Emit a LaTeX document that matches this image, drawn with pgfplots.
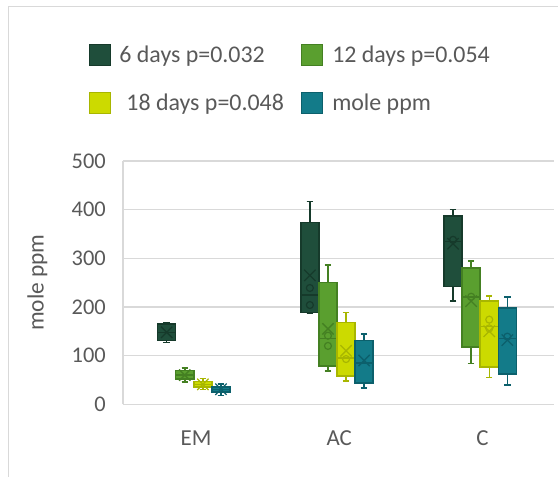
\documentclass[border=0pt]{standalone}
\usepackage{pgfplots}
\pgfplotsset{compat=1.18}
\usepgfplotslibrary{statistics}
\usepackage{fontspec}
\setmainfont{Carlito}
\definecolor{cA}{RGB}{31,78,59}
\definecolor{cAd}{RGB}{22,58,43}
\definecolor{cB}{RGB}{90,159,47}
\definecolor{cBd}{RGB}{68,128,34}
\definecolor{cC}{RGB}{204,218,0}
\definecolor{cCd}{RGB}{168,182,0}
\definecolor{cD}{RGB}{19,123,137}
\definecolor{cDd}{RGB}{12,96,108}
\definecolor{gridc}{RGB}{217,217,217}
\definecolor{txt}{RGB}{89,89,89}
% pos, lower whisker, lower quartile, median, upper quartile, upper whisker, fill, draw
\newcommand{\bx}[8]{\addplot[forget plot, fill=#7, draw=#8, line width=1.5bp,
  boxplot prepared={draw position=#1, lower whisker=#2, lower quartile=#3, median=#4,
  upper quartile=#5, upper whisker=#6, box extend=0.126, whisker extend=0.045}] coordinates {};}
\begin{document}
\begin{tikzpicture}
\path[use as bounding box] (-123bp,-72.7bp) rectangle (435bp,404.3bp);
\draw[gridc, line width=1bp] (-114.5bp,-72.7bp) -- (-114.5bp,397.8bp) -- (435bp,397.8bp);
\draw[gridc, line width=1.3bp] (0bp,0bp) -- (0bp,243.3bp);
\begin{axis}[
  at={(0bp,0bp)}, anchor=south west,
  scale only axis, width=431bp, height=243.3bp,
  boxplot/draw direction=y,
  xmin=-0.51, xmax=2.5, ymin=0, ymax=500,
  xtick={0,1,2}, xticklabels={EM,AC,C},
  ytick={0,100,200,300,400,500},
  ymajorgrids, grid style={gridc, line width=1.3bp},
  axis line style={draw=none},
  major tick length=0pt,
  tick label style={font=\fontsize{23}{27}\selectfont, text=txt},
  /pgf/number format/assume math mode=true,
  yticklabel style={anchor=east, inner sep=0pt, xshift=-17bp, font=\fontsize{22.5}{27}\selectfont},
  xticklabel style={anchor=center, inner sep=0pt, yshift=-34bp},
  ylabel={mole ppm},
  every axis y label/.style={at={(-0.1984,0.5)}, rotate=90, anchor=center, font=\fontsize{23.5}{28}\selectfont, text=txt},
  legend columns=2,
  legend cell align=left,
  legend image code/.code={\draw[#1, line width=0.8bp] (0bp,-10.5bp) rectangle (21bp,10.5bp);},
  legend style={at={(-0.0798,1.4825)}, anchor=north west, draw=none, fill=none,
    inner sep=0pt, outer sep=0pt, font=\fontsize{24}{28}\selectfont, text=txt,
    nodes={inner sep=0pt, text height=16.5bp, text depth=0bp}, row sep=26.2bp,
    /tikz/every odd column/.append style={column sep=9bp},
    /tikz/every even column/.append style={column sep=17.5bp}},
]
% EM
\bx{-0.205}{127}{131}{148}{165}{168}{cA}{cAd}
\bx{-0.0786}{46}{52}{60}{69}{75}{cB}{cBd}
\bx{0.0478}{30}{36}{41}{47}{53}{cC}{cCd}
\bx{0.1742}{18}{25}{30}{36}{42}{cD}{cDd}
% AC
\bx{0.795}{187}{189}{225}{374}{417}{cA}{cAd}
\bx{0.9214}{68}{79}{135}{250}{286}{cB}{cBd}
\bx{1.0478}{48}{58}{95}{168}{189}{cC}{cCd}
\bx{1.1742}{34}{44}{85}{131}{144}{cD}{cDd}
% C
\bx{1.795}{212}{242}{335}{387}{400}{cA}{cAd}
\bx{1.9214}{84}{118}{220}{280}{295}{cB}{cBd}
\bx{2.0478}{55}{77}{160}{212}{223}{cC}{cCd}
\bx{2.1742}{40}{62}{135}{198}{220}{cD}{cDd}
% means (X)
\addplot[forget plot, only marks, mark=x, mark size=8bp, draw=cAd, line width=1.3bp] coordinates {(-0.205,148) (0.795,265) (1.795,330)};
\addplot[forget plot, only marks, mark=x, mark size=8bp, draw=cBd, line width=1.3bp] coordinates {(-0.0786,60) (0.9214,155) (1.9214,212)};
\addplot[forget plot, only marks, mark=x, mark size=8bp, draw=cCd, line width=1.3bp] coordinates {(0.0478,41) (1.0478,110) (2.0478,150)};
\addplot[forget plot, only marks, mark=x, mark size=8bp, draw=cDd, line width=1.3bp] coordinates {(0.1742,31) (1.1742,90) (2.1742,132)};
% inner points
\addplot[forget plot, only marks, mark=o, mark size=3.5bp, draw=cAd, line width=1.2bp] coordinates {(0.795,239) (0.795,204) (1.795,338)};
\addplot[forget plot, only marks, mark=o, mark size=3.5bp, draw=cBd, line width=1.2bp] coordinates {(0.9214,141) (0.9214,120) (1.9214,221)};
\addplot[forget plot, only marks, mark=o, mark size=3.5bp, draw=cCd, line width=1.2bp] coordinates {(1.0478,93) (2.0478,174) (2.0478,156)};
\addplot[forget plot, only marks, mark=o, mark size=3.5bp, draw=cDd, line width=1.2bp] coordinates {(2.1742,139)};
\addlegendimage{fill=cA, draw=cAd}
\addlegendentry{6 days p=0.032}
\addlegendimage{fill=cB, draw=cBd}
\addlegendentry{12 days p=0.054}
\addlegendimage{fill=cC, draw=cCd}
\addlegendentry{\hspace{7bp}18 days p=0.048}
\addlegendimage{fill=cD, draw=cDd}
\addlegendentry{mole ppm}
\end{axis}
\end{tikzpicture}
\end{document}
